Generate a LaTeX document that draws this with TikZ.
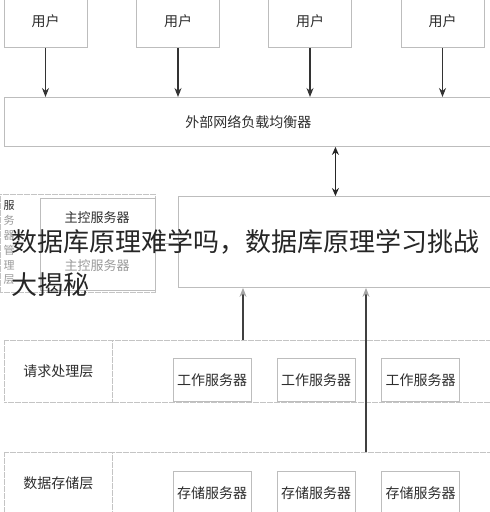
\documentclass[tikz,border=0pt]{standalone}
\usepackage{fontspec}
\setmainfont{Noto Sans CJK SC}
\newfontfamily\cjk{Noto Sans CJK SC}
\usetikzlibrary{arrows.meta,positioning}

\definecolor{boxline}{HTML}{BDBDBD}
\definecolor{layerline}{HTML}{C4C4C4}
\definecolor{inktext}{HTML}{2E2E2E}
\definecolor{fadetext}{HTML}{9A9A9A}

\tikzset{
  box/.style={draw=boxline, line width=0.9pt, fill=white, inner sep=0pt,
    text=inktext, font=\fontsize{14}{14}\selectfont},
  userbox/.style={box, minimum width=83pt, minimum height=53pt},
  serverbox/.style={box, minimum width=78pt, minimum height=43pt},
  layerbox/.style={box, draw=layerline, dash pattern=on 3pt off 0.5pt},
  arr/.style={-{Stealth[length=9pt,width=7pt]}, line width=1.1pt, draw=black!80},
  dblarr/.style={{Stealth[length=8pt,width=7pt]}-{Stealth[length=8pt,width=7pt]}, line width=1.1pt, draw=black!85},
  grayarr/.style={-{Stealth[length=9pt,width=7pt,color=black!35]}, line width=1.1pt, draw=black!75}
}

\begin{document}
\begin{tikzpicture}[x=1pt,y=-1pt]
\clip (0,0) rectangle (490,512);
\fill[white] (0,0) rectangle (490,512);

% users and the load balancer
\foreach \i/\x in {1/45.5,2/178,3/310,4/442.5}
  \node[userbox] (user\i) at (\x,21) {用户};
\node[box, anchor=north west, minimum width=488pt, minimum height=49pt] (lb) at (4,97) {外部网络负载均衡器};
\foreach \i in {1,...,4}
  \draw[arr] (user\i) -- (user\i |- lb.north);

% server management layer
\node[box, anchor=north west, minimum width=314pt, minimum height=91pt] (hub) at (178,196) {};
\draw[dblarr] (hub.north |- lb.south) -- (hub.north);
\node[layerbox, anchor=north west, minimum width=155pt, minimum height=98pt] (mgmt) at (0,194) {};
\node[box, anchor=north west, minimum width=115pt, minimum height=92pt] (master) at (40,198) {};
\node[text=inktext, font=\fontsize{13}{13}\selectfont] (mastera) at (97,218) {主控服务器};
\node[text=fadetext, font=\fontsize{13}{13}\selectfont] (masterb) at (97,266) {主控服务器};
\node[font=\fontsize{11}{14.8}\selectfont, align=center, text=fadetext, inner sep=0pt] (mgmtlabel) at (9,243)
  {{\color{inktext}服}\\务\\器\\管\\理\\层};
\draw[draw=black!30, line width=1pt] (master.east |- 0,243) -- (hub.west |- 0,243);

% request layer
\node[layerbox, anchor=north west, minimum width=500pt, minimum height=62pt] (req) at (4,340) {};
\node[layerbox, anchor=north west, minimum width=108pt, minimum height=62pt] (reqlabel) at (4,340) {请求处理层};
\foreach \i/\x in {1/212,2/316,3/420.5}
  \node[serverbox, anchor=south] (work\i) at (\x,402) {工作服务器};

% storage layer
\node[layerbox, anchor=north west, minimum width=500pt, minimum height=70pt] (store) at (4,452) {};
\node[layerbox, anchor=north west, minimum width=108pt, minimum height=62pt] (storelabel) at (4,452) {数据存储层};
\foreach \i/\x in {1/212,2/316,3/420.5}
  \node[serverbox, minimum height=44pt] (disk\i) at (\x,493) {存储服务器};

% links up to the management layer
\coordinate (upa) at (243,340);
\coordinate (upb) at (366,452);
\draw[grayarr] (upa) -- (upa |- hub.south);
\draw[grayarr] (upb) -- (upb |- hub.south);

% title laid over the picture
\node[anchor=west, align=left, inner sep=0pt, text=black!85,
  font=\cjk\fontsize{26}{43}\selectfont] (title) at (11,263)
  {数据库原理难学吗，数据库原理学习挑战\\大揭秘};
\end{tikzpicture}
\end{document}
